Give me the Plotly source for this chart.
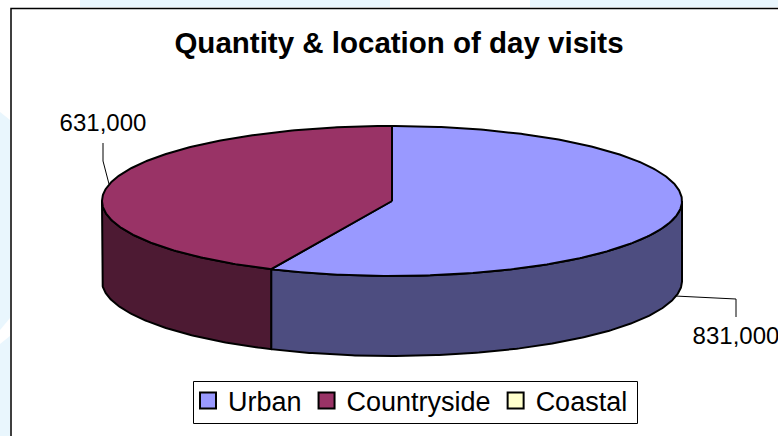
import numpy as np
import plotly.graph_objects as go

# ---- data ----
categories = ["Urban", "Countryside", "Coastal"]
values = [831000, 631000, 0]
top_colors = ["#9999FF", "#993366", "#FFFFCC"]
side_colors = ["#4D4D80", "#4D1A33", "#808066"]
title_text = "Quantity & location of day visits"

# pie geometry in page pixels (axes are mapped 1:1 onto the page)
W, H = 778, 436
CX, CY, RX, RY, DEPTH = 392, 201, 290, 75, 80


def rim(a0, a1, dy=0.0):
    """Points on the ellipse, angle measured clockwise from 12 o'clock."""
    n = max(2, int(abs(a1 - a0) / 0.01))
    a = np.linspace(a0, a1, n)
    return CX + RX * np.sin(a), CY - RY * np.cos(a) + dy


fig = go.Figure()
fractions = np.array(values, dtype=float) / sum(values)
edges = np.concatenate([[0], np.cumsum(fractions)]) * 2 * np.pi

# outer walls (only the front half of the cylinder is visible)
for i, cat in enumerate(categories):
    a0, a1 = max(edges[i], np.pi / 2), min(edges[i + 1], 3 * np.pi / 2)
    if a1 <= a0:
        continue
    xt, yt = rim(a0, a1)
    xb, yb = rim(a1, a0, DEPTH)
    fig.add_trace(go.Scatter(
        x=np.concatenate([xt, xb, xt[:1]]), y=np.concatenate([yt, yb, yt[:1]]),
        mode="lines", fill="toself", fillcolor=side_colors[i],
        line=dict(color="#000000", width=2), showlegend=False, hoverinfo="skip"))

# top faces
for i, cat in enumerate(categories):
    if values[i] == 0:
        continue
    xt, yt = rim(edges[i], edges[i + 1])
    fig.add_trace(go.Scatter(
        x=np.concatenate([[CX], xt, [CX]]), y=np.concatenate([[CY], yt, [CY]]),
        mode="lines", fill="toself", fillcolor=top_colors[i],
        line=dict(color="#000000", width=2), showlegend=False,
        name=cat, text=f"{cat}: {values[i]:,}", hoverinfo="text"))

# leader lines and value labels
fig.add_trace(go.Scatter(x=[675, 736, 736], y=[296, 299, 317], mode="lines",
                         line=dict(color="#000000", width=1), showlegend=False, hoverinfo="skip"))
fig.add_trace(go.Scatter(x=[103, 103, 109], y=[143, 161, 184], mode="lines",
                         line=dict(color="#000000", width=1), showlegend=False, hoverinfo="skip"))
fig.add_trace(go.Scatter(x=[736, 103], y=[338, 125], mode="text",
                         text=[f"{values[0]:,}", f"{values[1]:,}"],
                         textfont=dict(family="Liberation Sans", size=24, color="#000000"),
                         textposition="middle center", showlegend=False, hoverinfo="skip"))

# legend entries
for i, cat in enumerate(categories):
    fig.add_trace(go.Scatter(x=[None], y=[None], mode="markers", name=cat,
                             marker=dict(symbol="square", size=16, color=top_colors[i],
                                         line=dict(color="#000000", width=2))))

BG = "#E9F6FD"
shapes = [
    dict(type="rect", xref="x", yref="y", x0=80, x1=390, y0=0, y1=7, fillcolor=BG, line_width=0, layer="below"),
    dict(type="rect", xref="x", yref="y", x0=530, x1=778, y0=0, y1=7, fillcolor=BG, line_width=0, layer="below"),
    dict(type="path", xref="x", yref="y", path="M0,112 L10,120 L10,318 L0,330 Z", fillcolor=BG, line_width=0, layer="below"),
    dict(type="path", xref="x", yref="y", path="M0,344 L10,336 L10,436 L0,436 Z", fillcolor=BG, line_width=0, layer="below"),
    dict(type="rect", xref="x", yref="y", x0=11, x1=800, y0=8.5, y1=460, fillcolor="#FFFFFF",
         line=dict(color="#000000", width=1.5), layer="below"),
    # legend frame
    dict(type="rect", xref="x", yref="y", x0=193.5, x1=637.5, y0=381.5, y1=423.5, fillcolor="#FFFFFF",
         line=dict(color="#000000", width=1), layer="below"),
]

fig.update_layout(
    width=W, height=H, autosize=False,
    margin=dict(l=0, r=0, t=0, b=0),
    paper_bgcolor="#FFFFFF", plot_bgcolor="rgba(0,0,0,0)",
    shapes=shapes,
    title=dict(text=f"<b>{title_text}</b>", x=399 / W, xanchor="center", y=1 - 42.5 / H, yanchor="middle",
               font=dict(family="Liberation Sans", size=29.5, color="#000000")),
    xaxis=dict(range=[0, W], visible=False, fixedrange=True),
    yaxis=dict(range=[H, 0], visible=False, fixedrange=True),
    legend=dict(orientation="h", x=188 / W, xanchor="left", y=1 - 376.5 / H, yanchor="top",
                bgcolor="rgba(0,0,0,0)", borderwidth=0,
                font=dict(family="Liberation Sans", size=27, color="#000000"),
                itemwidth=30, traceorder="normal"),
    showlegend=True,
)
fig.write_html("out.html", config=dict(displayModeBar=False),
               post_script="document.body.style.margin='0';document.body.style.overflow='hidden';")
